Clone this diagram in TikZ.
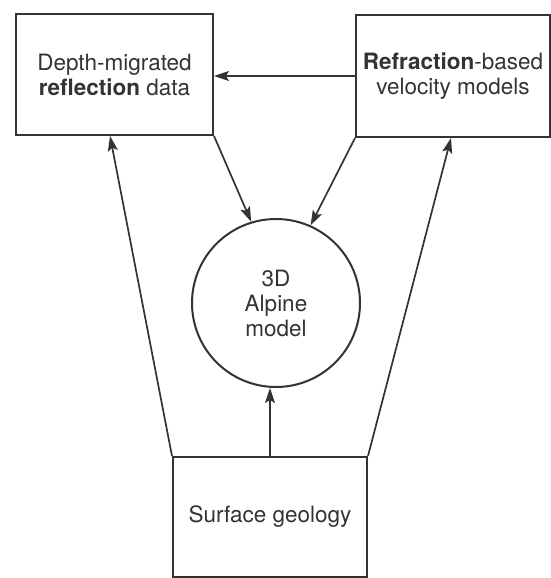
\documentclass[tikz,border=0pt]{standalone}
\usepackage{fontspec}
\setmainfont{TeX Gyre Heros}
\usetikzlibrary{arrows.meta}
\definecolor{ink}{HTML}{333333}
\begin{document}
\begin{tikzpicture}[x=1pt,y=1pt,
  box/.style={draw=ink, line width=2pt, rectangle, align=center, text=ink,
    font=\fontsize{22.5}{25}\selectfont, inner sep=0pt},
  ball/.style={draw=ink, line width=2pt, circle, align=center, text=ink,
    font=\fontsize{22.5}{25}\selectfont, minimum size=168pt, inner sep=0pt},
  arr/.style={draw=ink, line width=1.7pt, -{Stealth[length=15pt,width=10pt,inset=3pt]}},
  ln/.style={draw=ink, line width=1.5pt}]
\useasboundingbox (0,0) rectangle (551,-578);
\node[box, minimum width=197pt, minimum height=121pt] (L) at (114.5,-74.5)
  {Depth-migrated\\\textbf{reflection} data};
\node[box, minimum width=194pt, minimum height=122pt] (R) at (453,-76)
  {\textbf{Refraction}-based\\velocity models};
\node[ball] (C) at (276,-303) {3D\\Alpine\\model};
\node[box, minimum width=194pt, minimum height=120pt] (S) at (270,-517)
  {Surface geology};
\draw[arr] (R.west) -- (R.west -| L.east);
\draw[arr] (L.south east) -- (C.107);
\draw[arr] (R.south west) -- (C.66);
\draw[arr] (S.north west) -- ([xshift=-4.5pt]L.south);
\draw[arr] (S.north east) -- ([xshift=-2pt]R.south);
\draw[arr] (S.north) -- (S.north |- C.south);
\end{tikzpicture}
\end{document}
